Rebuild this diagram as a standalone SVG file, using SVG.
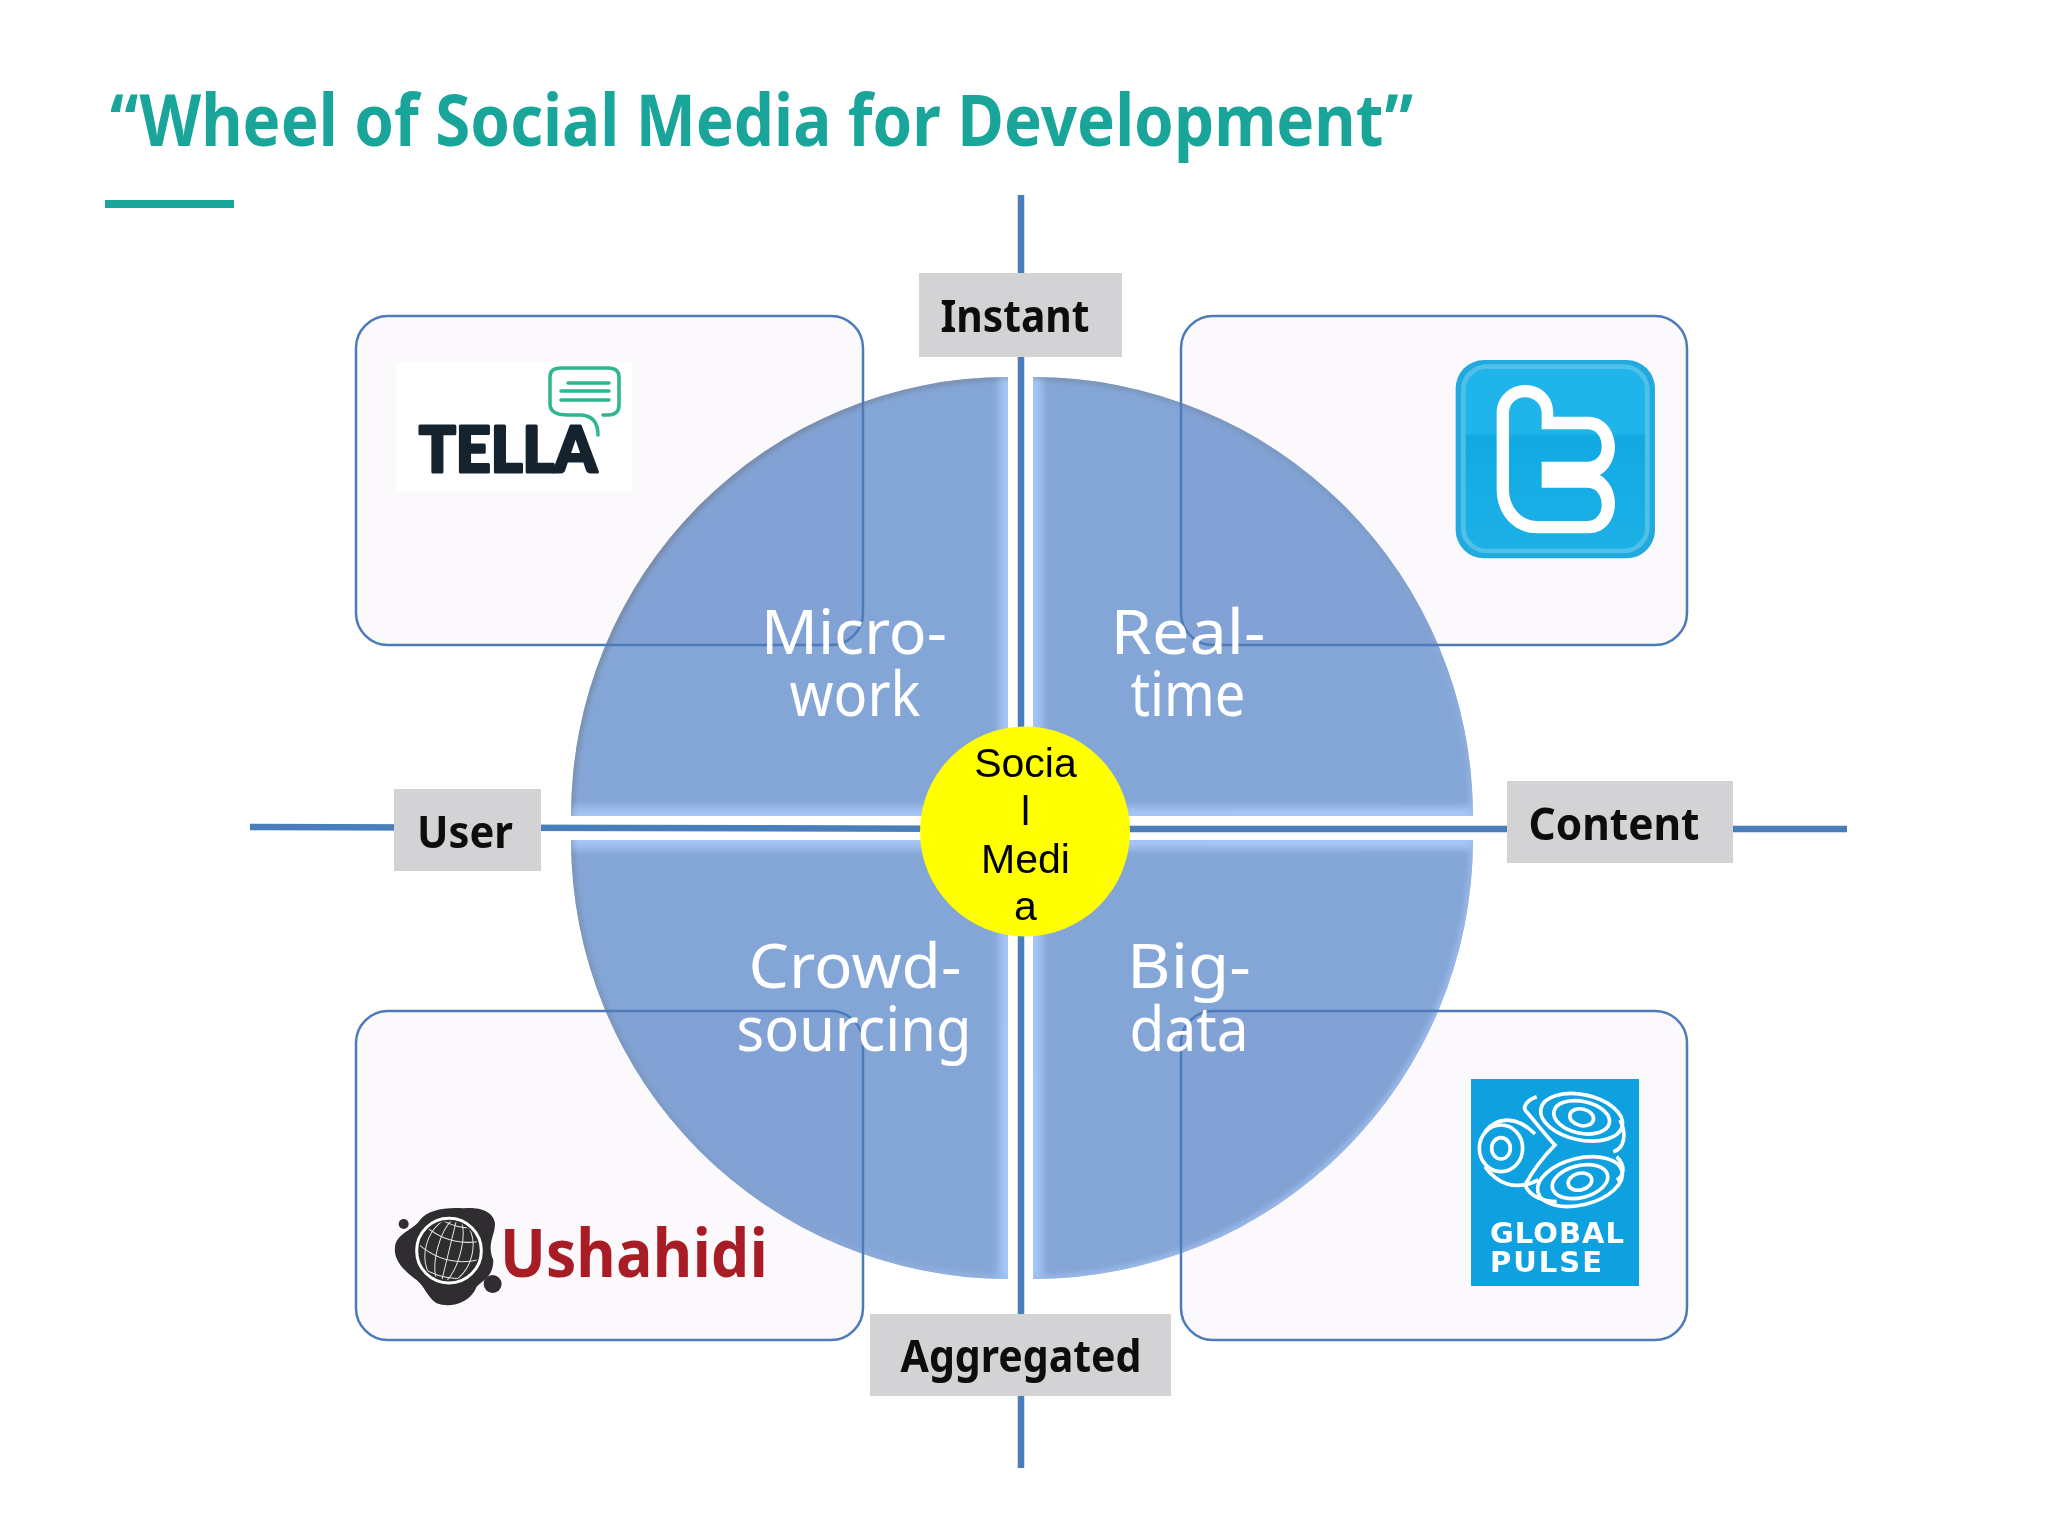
<svg xmlns="http://www.w3.org/2000/svg" width="2048" height="1536" viewBox="0 0 2048 1536">
<style>
.q{fill:#84a6d7}
.box{fill:#fcf9fd;mix-blend-mode:multiply}
.bor{fill:none;stroke:#4d7bba;stroke-width:2.5}
.axis{stroke:#4a7ebb;fill:none;stroke-width:6.5}
.tag{fill:#d3d3d5}
.tagt{font:700 45px "Noto Sans","Open Sans",sans-serif;fill:#0d0d0d;text-anchor:middle;letter-spacing:0}
.wt{font:400 62px "Noto Sans","Open Sans",sans-serif;fill:#fff;text-anchor:middle}
.hub{font:41px "Liberation Sans",Arial,sans-serif;fill:#000;text-anchor:middle}
.arc{fill:none;stroke:url(#arcg);stroke-width:8;filter:url(#b)}
.in{fill:none;stroke:#a6c6f6;stroke-width:18;filter:url(#b2)}
.ring{fill:none;stroke:#fff;stroke-width:11}
.bub{fill:none;stroke:#2fb58f;stroke-width:3.5;stroke-linecap:round}
.gl{fill:none;stroke:#e8e8e8;stroke-width:3}
</style>
<defs>
<filter id="b" x="-10%" y="-10%" width="120%" height="120%"><feGaussianBlur stdDeviation="2.5"/></filter>
<filter id="b2" x="-10%" y="-10%" width="120%" height="120%"><feGaussianBlur stdDeviation="4"/></filter>
<linearGradient id="arcg" gradientUnits="userSpaceOnUse" x1="600" y1="380" x2="1450" y2="1280"><stop offset="0" stop-color="#76889f"/><stop offset=".5" stop-color="#7f9fca"/><stop offset="1" stop-color="#a9c9f8"/></linearGradient>
<path id="qa" d="M1008,816H571A437,439 0 0 1 1008,377Z"/>
<path id="qb" d="M1033,816H1473A440,439 0 0 0 1033,377Z"/>
<path id="qc" d="M1008,840H571A437,439 0 0 0 1008,1279Z"/>
<path id="qd" d="M1033,840H1473A440,439 0 0 1 1033,1279Z"/>
<clipPath id="ca"><use href="#qa"/></clipPath>
<clipPath id="cb"><use href="#qb"/></clipPath>
<clipPath id="cc"><use href="#qc"/></clipPath>
<clipPath id="cd"><use href="#qd"/></clipPath>
<clipPath id="glb"><circle cx="237" cy="212" r="88"/></clipPath>
<linearGradient id="tw" x1="0" y1="0" x2="0" y2="1"><stop offset="0" stop-color="#1fb5ea"/><stop offset=".36" stop-color="#1fb5ea"/><stop offset=".38" stop-color="#12a9e3"/><stop offset="1" stop-color="#1cb0e6"/></linearGradient>
</defs>
<rect width="2048" height="1536" fill="#fff"/>
<g id="title">
<text x="110" y="146" font-family="'Noto Sans','Open Sans',sans-serif" font-weight="700" font-size="71" fill="#1aa59a" textLength="1303" lengthAdjust="spacingAndGlyphs">“Wheel of Social Media for Development”</text>
<rect x="105" y="200" width="129" height="8" fill="#1aa59a"/>
</g>
<g id="wheel">
<g clip-path="url(#ca)"><use href="#qa" class="q"/><use href="#qa" class="arc"/><path d="M1008,377V816H571" class="in"/></g>
<g clip-path="url(#cb)"><use href="#qb" class="q"/><use href="#qb" class="arc"/><path d="M1033,377V816H1473" class="in"/></g>
<g clip-path="url(#cc)"><use href="#qc" class="q"/><use href="#qc" class="arc"/><path d="M1008,1279V840H571" class="in"/></g>
<g clip-path="url(#cd)"><use href="#qd" class="q"/><use href="#qd" class="arc"/><path d="M1033,1279V840H1473" class="in"/></g>
</g>
<g id="connectors">
<path class="axis" d="M1021,195V1468"/>
<path class="axis" d="M250,827L1025,829L1847,829"/>
</g>
<g id="box-tella">
<rect class="box" x="356" y="316" width="507" height="329" rx="32"/>
<rect class="bor" x="356" y="316" width="507" height="329" rx="32"/>
<rect x="396" y="362" width="236" height="130" fill="#fff"/>
<text x="419" y="472" font-family="Lato,'Noto Sans',sans-serif" font-weight="900" font-size="62" fill="#15232e" stroke="#15232e" stroke-width="3" stroke-linejoin="round" textLength="178" lengthAdjust="spacingAndGlyphs">TELLA</text>
<path class="bub" d="M603,415H608Q619,415 619,405V377Q619,368 608,368H561Q550,368 550,377V404Q550,415 568,415H581Q598,416 598,435"/>
<path class="bub" d="M568,383H609M561,391H609M561,400H609"/>
</g>
<g id="box-twitter">
<rect class="box" x="1181" y="316" width="506" height="329" rx="32"/>
<rect class="bor" x="1181" y="316" width="506" height="329" rx="32"/>
<g transform="translate(1400,320) scale(.3333)">
<rect x="167" y="120" width="598" height="595" rx="85" fill="#22aae0"/>
<rect x="190" y="140" width="552" height="553" rx="70" fill="url(#tw)" stroke="#4fc0e6" stroke-width="14"/>
<path fill="#fff" fill-rule="evenodd" d="M290,280C290,230 330,195 375,195C425,195 460,230 460,280V290H565C615,290 645,335 645,380C645,420 625,450 600,465C625,480 645,510 645,550C645,600 615,640 565,640H410C340,640 290,580 290,510ZM327,280V510C327,560 365,603 410,603H560C590,603 605,580 605,555C605,525 590,503 560,503H425V425H560C590,425 605,405 605,380C605,350 590,328 560,328H425V280C425,250 400,232 375,232C350,232 327,250 327,280Z"/>
</g>
</g>
<g id="box-ushahidi">
<rect class="box" x="356" y="1011" width="507" height="329" rx="32"/>
<rect class="bor" x="356" y="1011" width="507" height="329" rx="32"/>
<g transform="translate(370,1180) scale(.3333)">
<path fill="#2f2d2f" d="M75,200C80,160 130,150 150,120C170,90 230,80 280,85C320,80 370,90 375,130C375,170 350,190 370,240C370,290 340,300 320,320C300,370 240,385 200,370C170,350 165,320 140,300C100,270 70,240 75,200Z"/>
<circle cx="101" cy="132" r="15" fill="#2f2d2f"/><circle cx="368" cy="312" r="27" fill="#2f2d2f"/>
<circle cx="237" cy="212" r="97" fill="none" stroke="#fff" stroke-width="9"/>
<g clip-path="url(#glb)" class="gl">
<ellipse cx="237" cy="212" rx="35" ry="100" transform="rotate(15 237 212)"/>
<ellipse cx="237" cy="212" rx="70" ry="100" transform="rotate(15 237 212)"/>
<path d="M130,150Q237,210 340,150M130,210Q237,270 340,210M130,265Q237,320 340,265M170,120Q237,150 310,120" transform="rotate(15 237 212)"/>
<path d="M262,110L212,315"/>
</g>
</g>
<text x="500" y="1277" font-family="'Open Sans','Noto Sans',sans-serif" font-weight="700" font-size="66" fill="#a81c25" textLength="268" lengthAdjust="spacingAndGlyphs">Ushahidi</text>
</g>
<g id="box-globalpulse">
<rect class="box" x="1181" y="1011" width="506" height="329" rx="32"/>
<rect class="bor" x="1181" y="1011" width="506" height="329" rx="32"/>
<rect x="1471" y="1079" width="168" height="207" fill="#0fa0e0"/>
<g transform="translate(1440,1060) scale(.3333)">
<ellipse class="ring" cx="183" cy="265" rx="28" ry="32"/>
<ellipse class="ring" cx="183" cy="265" rx="65" ry="70" stroke-width="13"/>
<path class="ring" d="M135,215C170,170 230,165 285,222M135,320C170,370 225,395 295,360"/>
<g transform="rotate(12 425 172)">
<ellipse class="ring" cx="425" cy="172" rx="36" ry="25"/>
<ellipse class="ring" cx="425" cy="172" rx="85" ry="48" stroke-width="13"/>
<ellipse class="ring" cx="425" cy="172" rx="125" ry="68"/>
</g>
<g transform="rotate(-14 420 365)">
<ellipse class="ring" cx="420" cy="365" rx="36" ry="25"/>
<ellipse class="ring" cx="420" cy="365" rx="85" ry="48" stroke-width="13"/>
<ellipse class="ring" cx="420" cy="365" rx="130" ry="70"/>
</g>
<path class="ring" d="M255,150C290,190 320,230 345,255C310,290 280,330 255,375M290,110C260,120 250,140 255,150M540,180C560,220 555,265 520,275M255,375C270,410 310,425 350,425M530,290C560,320 550,350 530,360"/>
</g>
<text x="1490" y="1243" font-family="'DejaVu Sans',sans-serif" font-weight="700" font-size="29" fill="#fff" textLength="134">GLOBAL</text>
<text x="1490" y="1272" font-family="'DejaVu Sans',sans-serif" font-weight="700" font-size="29" fill="#fff" textLength="112">PULSE</text>
</g>
<g id="seg-microwork"><text class="wt" x="854" y="654" textLength="186" lengthAdjust="spacingAndGlyphs">Micro-</text><text class="wt" x="855" y="716" textLength="131" lengthAdjust="spacingAndGlyphs">work</text></g>
<g id="seg-realtime"><text class="wt" x="1188" y="654" textLength="155" lengthAdjust="spacingAndGlyphs">Real-</text><text class="wt" x="1188" y="716" textLength="115" lengthAdjust="spacingAndGlyphs">time</text></g>
<g id="seg-crowd"><text class="wt" x="855" y="988" textLength="213" lengthAdjust="spacingAndGlyphs">Crowd-</text><text class="wt" x="854" y="1051" textLength="235" lengthAdjust="spacingAndGlyphs">sourcing</text></g>
<g id="seg-bigdata"><text class="wt" x="1189" y="988" textLength="124" lengthAdjust="spacingAndGlyphs">Big-</text><text class="wt" x="1189" y="1051" textLength="119" lengthAdjust="spacingAndGlyphs">data</text></g>
<g id="tag-instant"><rect class="tag" x="919" y="273" width="203" height="84"/><text class="tagt" x="1015" y="332" textLength="149" lengthAdjust="spacingAndGlyphs">Instant</text></g>
<g id="tag-user"><rect class="tag" x="394" y="789" width="147" height="82"/><text class="tagt" x="465" y="848" textLength="96" lengthAdjust="spacingAndGlyphs">User</text></g>
<g id="tag-content"><rect class="tag" x="1507" y="781" width="226" height="82"/><text class="tagt" x="1614" y="840" textLength="171" lengthAdjust="spacingAndGlyphs">Content</text></g>
<g id="tag-aggregated"><rect class="tag" x="870" y="1314" width="301" height="82"/><text class="tagt" x="1021" y="1372" textLength="241" lengthAdjust="spacingAndGlyphs">Aggregated</text></g>
<g id="hub">
<circle cx="1025" cy="831.5" r="105" fill="#ff0"/>
<text class="hub" x="1025.500" y="777">Socia</text>
<text class="hub" x="1025.500" y="825">l</text>
<text class="hub" x="1025.500" y="873">Medi</text>
<text class="hub" x="1025.500" y="920">a</text>
</g>
</svg>
